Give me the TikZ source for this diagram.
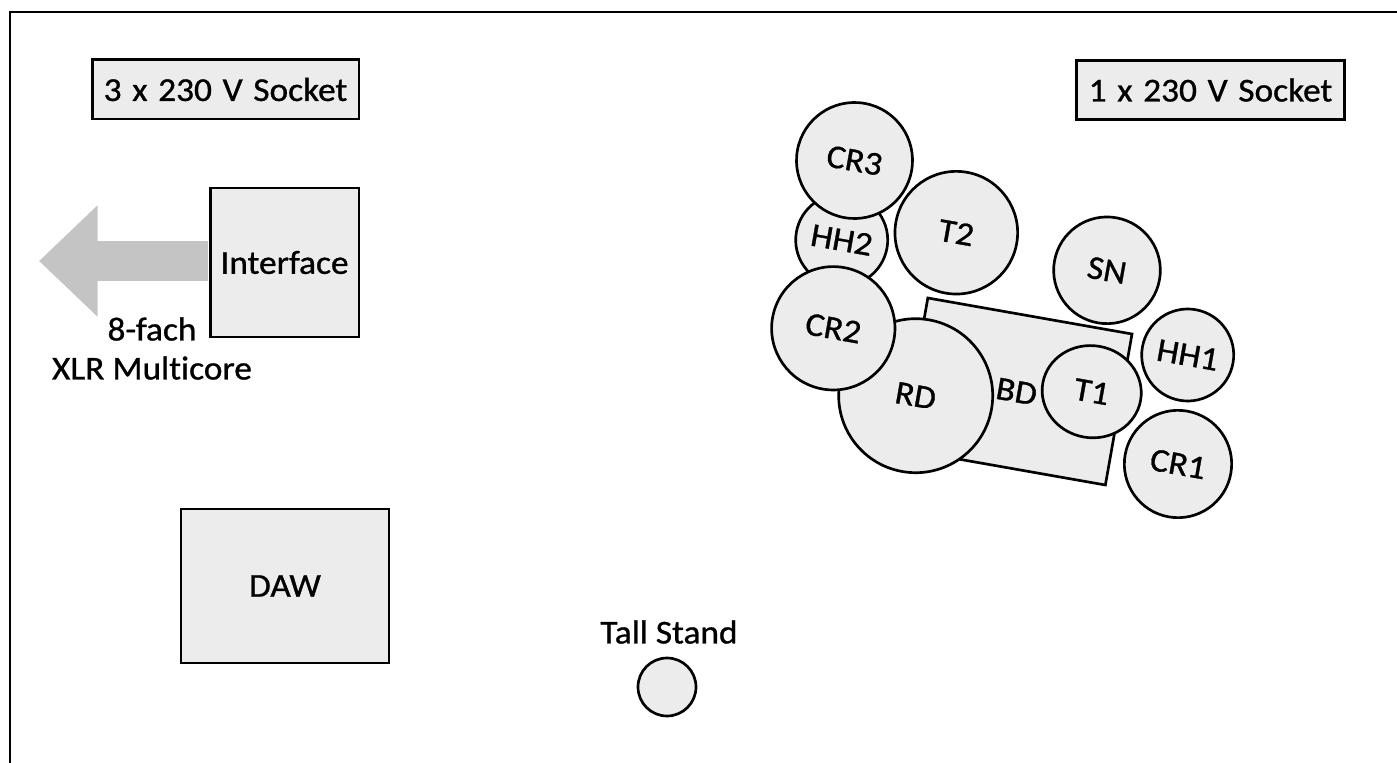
\documentclass[tikz,border=0pt]{standalone}
\usepackage{fontspec}
\setmainfont[Ligatures=NoCommon,FakeBold=0.9,FakeStretch=1.06]{Carlito}
\usetikzlibrary{arrows.meta,shapes.geometric}
\definecolor{boxfill}{HTML}{ECECEC}
\definecolor{cable}{HTML}{C4C4C4}
\newcommand{\socketfont}{\fontsize{25}{30}\selectfont\spaceskip 0.32em\relax}
\tikzset{
	stagebox/.style = {draw, line width = 2pt, fill = boxfill, font = \fontsize{25}{30}\selectfont, inner sep = 0pt},
	socketbox/.style = {stagebox, font = \socketfont, minimum height = 44.5pt},
	drum/.style = {stagebox, circle, rotate = -10},
	note/.style = {font = \fontsize{25}{30}\selectfont, inner sep = 0pt}
}
\begin{document}
\begin{tikzpicture}[x = 0.75pt, y = -0.75pt]
	\useasboundingbox (0,0) rectangle (1397,763);
	\coordinate (frameleft) at (10,763);
	\coordinate (framecorner) at (10,12);
	\coordinate (frameright) at (1397,12);
	\draw[line width = 2pt] (frameleft) -- (framecorner) -- (frameright);
	\node[socketbox, minimum width = 200pt] (socketA) at (225.5,89.5) {3 x 230 V Socket};
	\node[socketbox, minimum width = 201pt] (socketB) at (1210.5,90) {1 x 230 V Socket};
	\coordinate (cabletip) at (39,261);
	\node[stagebox, minimum width = 111.5pt, minimum height = 111.5pt] (interface) at (284.5,262.5) {Interface};
	\draw[cable, line width = 30pt, shorten <= 1pt, -{Triangle[length = 44pt, width = 81pt]}] (interface.west |- cabletip) -- (cabletip);
	\node[note] (fach) at (152,329) {8-fach};
	\node[note] (multicore) at (152,368) {XLR Multicore};
	\node[stagebox, minimum width = 156pt, minimum height = 115.5pt] (daw) at (285,586) {DAW};
	\node[note] (standlabel) at (669,632) {Tall Stand};
	\node[stagebox, circle, minimum size = 43.5pt] (stand) at (667,687) {};
	% kit
	\node[stagebox, rotate = -10, minimum width = 155.5pt, minimum height = 115pt] (bd) at (1016.6,391.5) {BD};
	\node[drum, minimum size = 69pt] (hh2) at (841.7,240) {HH2};
	\node[drum, minimum size = 87pt] (cr3) at (854.5,160.5) {CR3};
	\node[drum, minimum size = 92pt] (t2) at (956.3,232.7) {T2};
	\node[drum, minimum size = 80pt] (sn) at (1107,270.3) {SN};
	\node[drum, minimum size = 115.5pt] (rd) at (915.7,395.7) {RD};
	\node[drum, minimum size = 92.5pt] (cr2) at (833.3,328.3) {CR2};
	\node[drum, minimum size = 69pt] (hh1) at (1187.7,355) {HH1};
	\node[stagebox, ellipse, rotate = -10, minimum width = 74.5pt, minimum height = 69pt] (t1) at (1091.7,391.7) {T1};
	\node[drum, minimum size = 80.5pt] (cr1) at (1178,464) {CR1};
\end{tikzpicture}
\end{document}
